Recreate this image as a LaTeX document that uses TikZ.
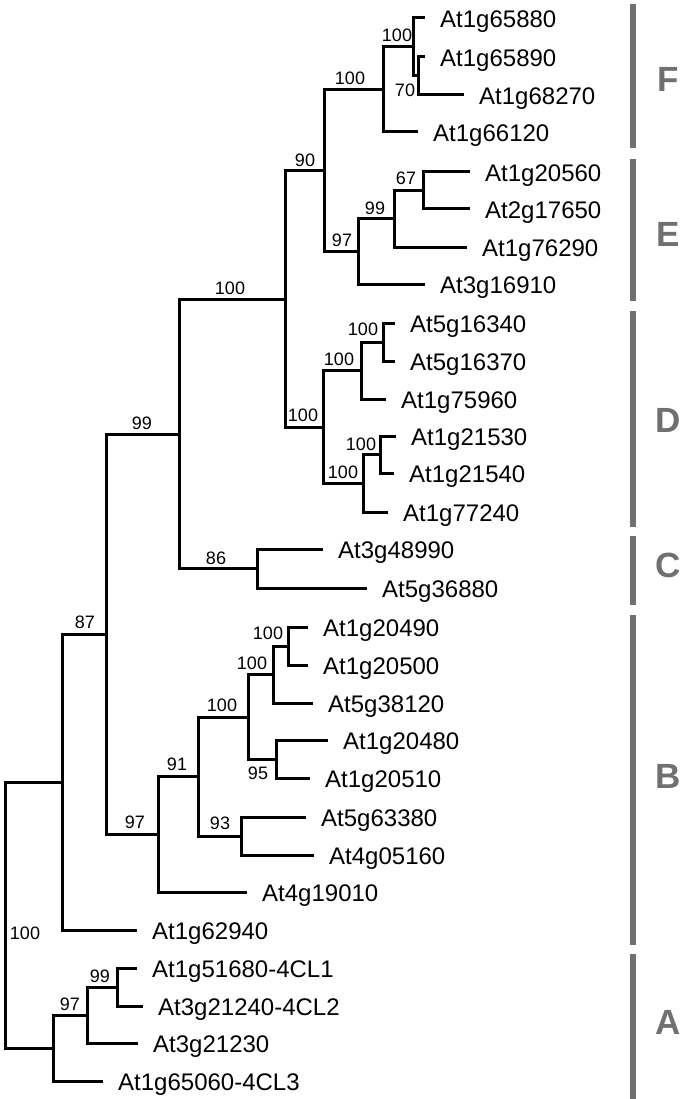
\documentclass[tikz,border=0pt]{standalone}
\usepackage{fontspec}
\setmainfont{Liberation Sans}
\definecolor{cladegray}{RGB}{112,112,112}

\begin{document}
\begin{tikzpicture}[x=1pt, y=-1pt,
        branch/.style = {line width=3pt, line join=miter},
        leaf/.style = {anchor=west, inner xsep=15pt, inner ysep=0pt, text height=19.5pt, text depth=0pt, font=\fontsize{24}{26}\selectfont},
        boot/.style = {inner sep=0pt, font=\fontsize{18}{20}\selectfont},
        bar/.style = {line width=6pt, draw=cladegray},
        clade/.style = {inner sep=0pt, text=cladegray, font=\fontsize{35}{38}\selectfont\bfseries}]
        \useasboundingbox (0,0) rectangle (683,1099);
        % inner nodes
        \coordinate (root) at (5,915);
        \coordinate (a0) at (53,1048);
        \coordinate (a97) at (87,1015);
        \coordinate (a99) at (117,987);
        \coordinate (n62) at (62,782);
        \coordinate (n87) at (106,634);
        \coordinate (n99) at (179,434);
        \coordinate (n100) at (285,299);
        \coordinate (n90) at (324,170.5);
        \coordinate (f0) at (383,89.5);
        \coordinate (f1) at (413,47);
        \coordinate (f2) at (418,76);
        \coordinate (e97) at (358,251.5);
        \coordinate (e99) at (394,219);
        \coordinate (e67) at (423,190.5);
        \coordinate (d0) at (323,427);
        \coordinate (d1) at (361,370.5);
        \coordinate (d2) at (383,342);
        \coordinate (d3) at (363,483);
        \coordinate (d4) at (380,454.5);
        \coordinate (c0) at (257,568.5);
        \coordinate (b97) at (158,834);
        \coordinate (b91) at (198,776.5);
        \coordinate (b100) at (248,717);
        \coordinate (b100b) at (273,674.5);
        \coordinate (b100c) at (288,646);
        \coordinate (b95) at (276,759);
        \coordinate (b93) at (241,836);
        % leaves
        \node[leaf] (l1) at (425,18) {At1g65880};
        \node[leaf] (l2) at (425,57) {At1g65890};
        \node[leaf] (l3) at (464,95) {At1g68270};
        \node[leaf] (l4) at (418,132) {At1g66120};
        \node[leaf] (l5) at (470,172) {At1g20560};
        \node[leaf] (l6) at (470,209) {At2g17650};
        \node[leaf] (l7) at (467,247) {At1g76290};
        \node[leaf] (l8) at (425,284) {At3g16910};
        \node[leaf] (l9) at (395,323) {At5g16340};
        \node[leaf] (l10) at (395,361) {At5g16370};
        \node[leaf] (l11) at (386,399) {At1g75960};
        \node[leaf] (l12) at (396,436) {At1g21530};
        \node[leaf] (l13) at (394,473) {At1g21540};
        \node[leaf] (l14) at (388,512) {At1g77240};
        \node[leaf] (l15) at (323,549) {At3g48990};
        \node[leaf] (l16) at (367,588) {At5g36880};
        \node[leaf] (l17) at (308,627) {At1g20490};
        \node[leaf] (l18) at (308,665) {At1g20500};
        \node[leaf] (l19) at (313,703) {At5g38120};
        \node[leaf] (l20) at (328,740) {At1g20480};
        \node[leaf] (l21) at (310,778) {At1g20510};
        \node[leaf] (l22) at (306,817) {At5g63380};
        \node[leaf] (l23) at (314,855) {At4g05160};
        \node[leaf] (l24) at (247,892) {At4g19010};
        \node[leaf] (l25) at (137,930) {At1g62940};
        \node[leaf] (l26) at (137,968) {At1g51680-4CL1};
        \node[leaf] (l27) at (143,1006) {At3g21240-4CL2};
        \node[leaf] (l28) at (138,1043) {At3g21230};
        \node[leaf] (l29) at (103,1081) {At1g65060-4CL3};
        % branches
        \draw[branch] (root) |- (n62);
        \draw[branch] (root) |- (a0);
        \draw[branch] (n62) |- (n87);
        \draw[branch] (n62) |- (l25);
        \draw[branch] (n87) |- (n99);
        \draw[branch] (n87) |- (b97);
        \draw[branch] (n99) |- (n100);
        \draw[branch] (n99) |- (c0);
        \draw[branch] (n100) |- (n90);
        \draw[branch] (n100) |- (d0);
        \draw[branch] (n90) |- (f0);
        \draw[branch] (n90) |- (e97);
        \draw[branch] (f0) |- (f1);
        \draw[branch] (f0) |- (l4);
        \draw[branch] (f1) |- (l1);
        \draw[branch] (f1) |- (f2);
        \draw[branch] (f2) |- (l2);
        \draw[branch] (f2) |- (l3);
        \draw[branch] (e97) |- (e99);
        \draw[branch] (e97) |- (l8);
        \draw[branch] (e99) |- (e67);
        \draw[branch] (e99) |- (l7);
        \draw[branch] (e67) |- (l5);
        \draw[branch] (e67) |- (l6);
        \draw[branch] (d0) |- (d1);
        \draw[branch] (d0) |- (d3);
        \draw[branch] (d1) |- (d2);
        \draw[branch] (d1) |- (l11);
        \draw[branch] (d2) |- (l9);
        \draw[branch] (d2) |- (l10);
        \draw[branch] (d3) |- (d4);
        \draw[branch] (d3) |- (l14);
        \draw[branch] (d4) |- (l12);
        \draw[branch] (d4) |- (l13);
        \draw[branch] (c0) |- (l15);
        \draw[branch] (c0) |- (l16);
        \draw[branch] (b97) |- (b91);
        \draw[branch] (b97) |- (l24);
        \draw[branch] (b91) |- (b100);
        \draw[branch] (b91) |- (b93);
        \draw[branch] (b100) |- (b100b);
        \draw[branch] (b100) |- (b95);
        \draw[branch] (b100b) |- (b100c);
        \draw[branch] (b100b) |- (l19);
        \draw[branch] (b100c) |- (l17);
        \draw[branch] (b100c) |- (l18);
        \draw[branch] (b95) |- (l20);
        \draw[branch] (b95) |- (l21);
        \draw[branch] (b93) |- (l22);
        \draw[branch] (b93) |- (l23);
        \draw[branch] (a0) |- (a97);
        \draw[branch] (a0) |- (l29);
        \draw[branch] (a97) |- (a99);
        \draw[branch] (a97) |- (l28);
        \draw[branch] (a99) |- (l26);
        \draw[branch] (a99) |- (l27);
        % bootstrap values
        \node[boot] (s1) at (397,35) {100};
        \node[boot] (s2) at (405,90) {70};
        \node[boot] (s3) at (350,78) {100};
        \node[boot] (s4) at (305,160) {90};
        \node[boot] (s5) at (406,178) {67};
        \node[boot] (s6) at (375,208) {99};
        \node[boot] (s7) at (342,240) {97};
        \node[boot] (s8) at (230,288) {100};
        \node[boot] (s9) at (363,329) {100};
        \node[boot] (s10) at (339,359) {100};
        \node[boot] (s11) at (361,444) {100};
        \node[boot] (s12) at (343,472) {100};
        \node[boot] (s13) at (303,415) {100};
        \node[boot] (s14) at (142,423) {99};
        \node[boot] (s15) at (216,558) {86};
        \node[boot] (s16) at (85,622) {87};
        \node[boot] (s17) at (268,633) {100};
        \node[boot] (s18) at (252,663) {100};
        \node[boot] (s19) at (222,705) {100};
        \node[boot] (s20) at (258,773) {95};
        \node[boot] (s21) at (177,764) {91};
        \node[boot] (s22) at (220,823) {93};
        \node[boot] (s23) at (135,822) {97};
        \node[boot] (s24) at (25,933) {100};
        \node[boot] (s25) at (100,976) {99};
        \node[boot] (s26) at (70,1004) {97};
        % clades
        \draw[bar] (633,4) -- (633,148);
        \draw[bar] (633,159) -- (633,301);
        \draw[bar] (633,311) -- (633,527);
        \draw[bar] (633,536) -- (633,605);
        \draw[bar] (633,615) -- (633,945);
        \draw[bar] (633,954) -- (633,1099);
        \node[clade] (cF) at (668,79) {F};
        \node[clade] (cE) at (668,234) {E};
        \node[clade] (cD) at (668,420) {D};
        \node[clade] (cC) at (668,565) {C};
        \node[clade] (cB) at (668,776) {B};
        \node[clade] (cA) at (668,1022) {A};
\end{tikzpicture}
\end{document}
